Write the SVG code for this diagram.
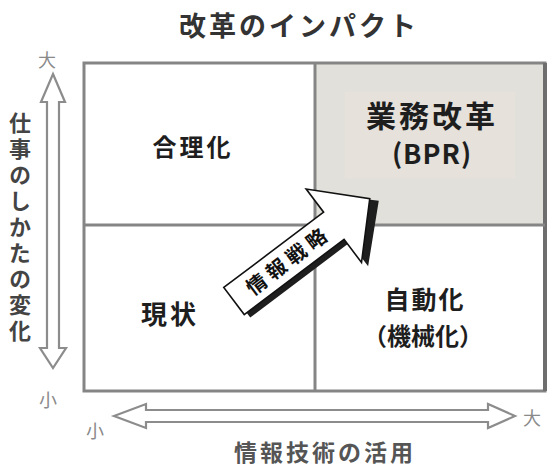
<svg xmlns="http://www.w3.org/2000/svg" width="552" height="468" viewBox="0 0 552 468">
<style>
text{font-family:"Noto Sans CJK JP","Noto Sans",sans-serif;}
.lbl{fill:#1e1e1e;font-weight:700;text-anchor:middle;dominant-baseline:central;}
.axis{fill:#444;font-weight:700;}
.small{fill:#8a8a8a;font-size:18px;text-anchor:middle;dominant-baseline:central;}
.grid{stroke:#858585;stroke-width:3;fill:none;}
.harrow{fill:#fff;stroke:#8c8c8c;stroke-width:2.2;stroke-linejoin:miter;}
</style>
<rect width="552" height="468" fill="#fff"/>
<text x="299" y="24" font-size="27" fill="#333" font-weight="700" text-anchor="middle" dominant-baseline="central" letter-spacing="3">改革のインパクト</text>

<g id="matrix">
<rect x="84" y="63" width="461" height="328" fill="#fff"/>
<rect x="315" y="63" width="230" height="162" fill="#e1e0da"/>
<rect x="345" y="92" width="170" height="86" fill="#e6e1db"/>
<rect class="grid" x="84" y="63" width="461" height="328"/>
<line x1="545" y1="63" x2="545" y2="391" stroke="#6e6e6e" stroke-width="4"/>
<line class="grid" x1="315" y1="63" x2="315" y2="391"/>
<line class="grid" x1="84" y1="225" x2="545" y2="225"/>
</g>

<g id="q-gourika"><text class="lbl" x="193" y="145" font-size="24" letter-spacing="3">合理化</text></g>
<g id="q-bpr">
<text class="lbl" x="432" y="114" font-size="30" letter-spacing="3">業務改革</text>
<text class="lbl" x="432" y="152" font-size="27" letter-spacing="1">(BPR)</text>
</g>
<g id="q-genjo"><text class="lbl" x="170" y="312" font-size="26" letter-spacing="3">現状</text></g>
<g id="q-jidoka">
<text class="lbl" x="425" y="298" font-size="25" letter-spacing="2" style="font-weight:600">自動化</text>
<text class="lbl" x="423" y="334" font-size="24" letter-spacing="0" style="font-weight:600">（機械化）</text>
</g>

<g id="connectors">
<g id="strategy-arrow" transform="translate(234,301) rotate(-37)">
<polygon points="3,-9 128,-9 128,-39 176,7 128,53 128,23 3,23" fill="#1e1e1e"/>
<polygon points="0,-17 125,-17 125,-46 170,0 125,46 125,17 0,17" fill="#fff" stroke="#111" stroke-width="1.6" stroke-linejoin="miter"/>
<text x="68" y="-1" font-size="20" font-weight="700" fill="#111" text-anchor="middle" dominant-baseline="central" letter-spacing="5">情報戦略</text>
</g>
<polygon id="v-axis" class="harrow" points="53,74 65,102 59,102 59,348 66,348 53,368 40,348 47,348 47,102 41,102"/>
<polygon id="h-axis" class="harrow" points="114,416 146,404 146,410 488,410 488,404 515,416 488,428 488,422 146,422 146,428"/>
</g>

<g id="axis-labels">
<text class="axis" font-size="22" x="20" y="112" style="writing-mode:vertical-rl" letter-spacing="4">仕事のしかたの変化</text>
<text class="axis" font-size="23" x="325" y="451" text-anchor="middle" dominant-baseline="central" letter-spacing="3" style="fill:#555">情報技術の活用</text>
<text class="small" x="47" y="59">大</text>
<text class="small" x="48" y="399" font-size="19">小</text>
<text class="small" x="95" y="430" font-size="20">小</text>
<text class="small" x="532" y="417" font-size="22">大</text>
</g>
</svg>
